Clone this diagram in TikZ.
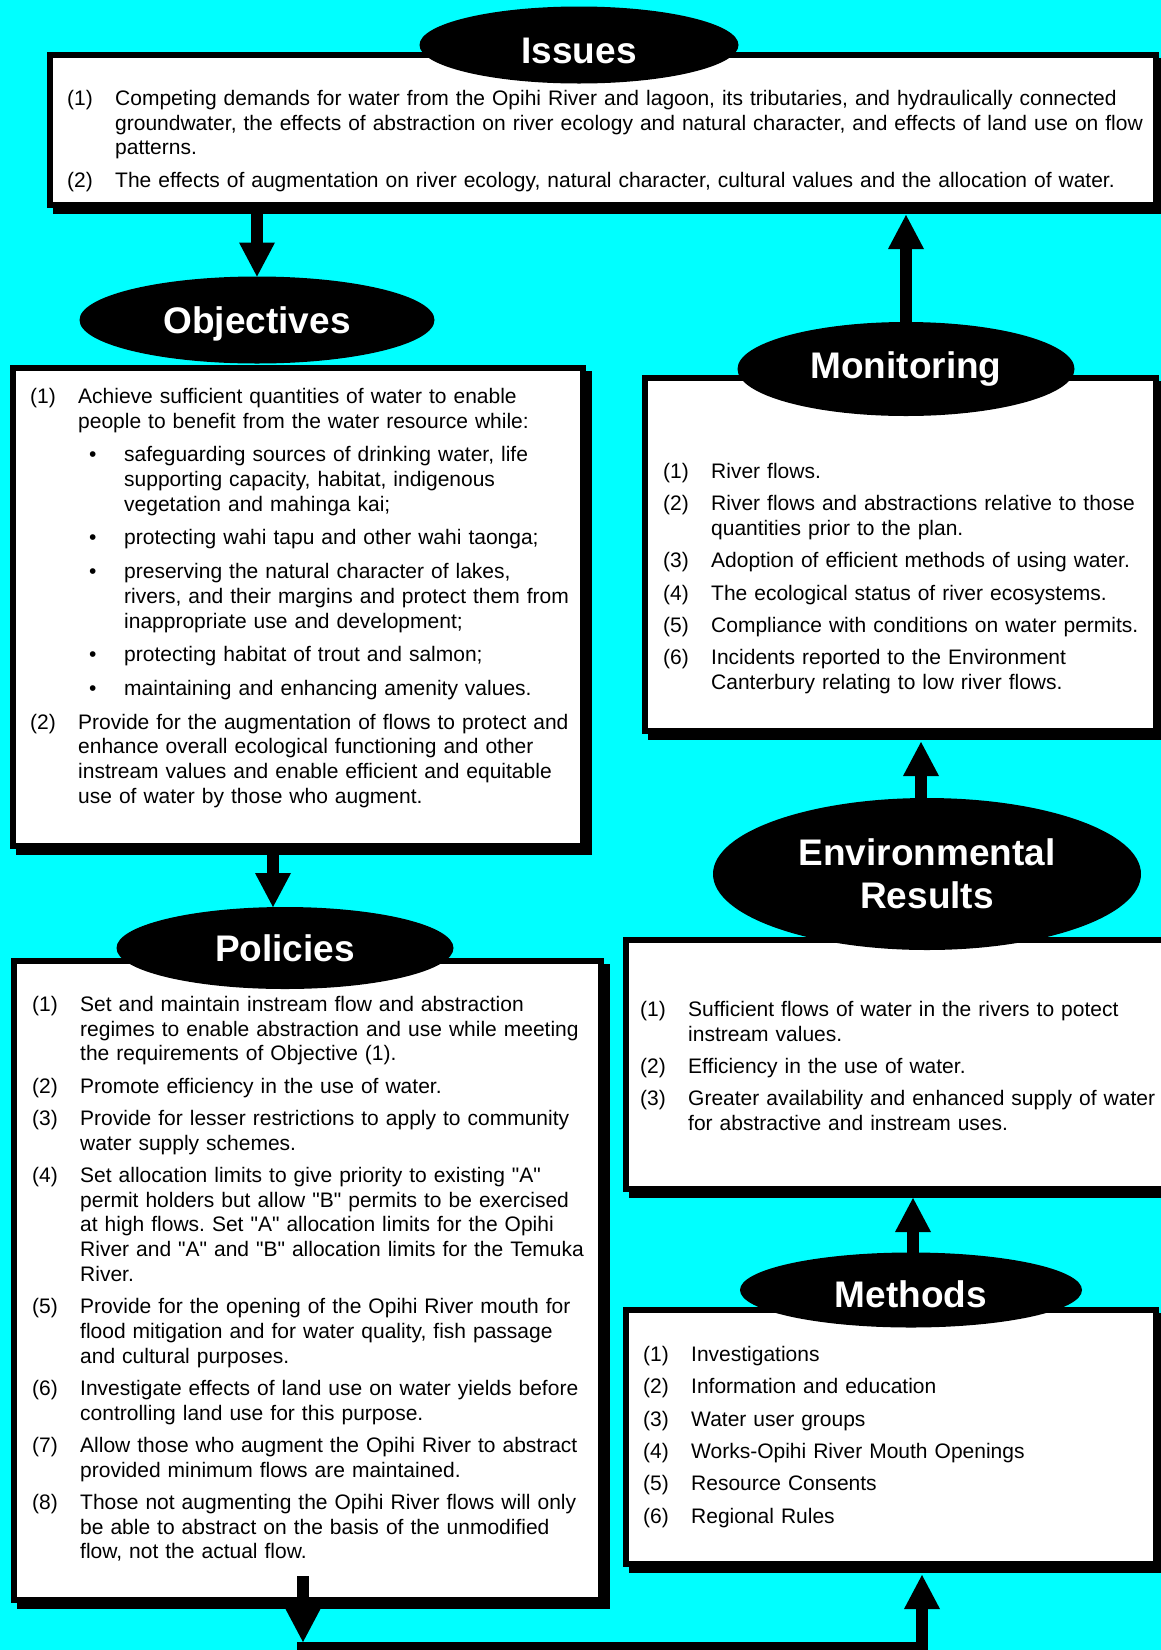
\documentclass[tikz,border=0pt]{standalone}
\usepackage{fontspec}
\setmainfont{Liberation Sans}
\usetikzlibrary{shapes.geometric,arrows.meta,shadows}
\definecolor{aqua}{RGB}{0,255,255}
\newlength\gapsize
\setlength\gapsize{7.6pt}
\newcommand{\entry}[2]{\hangindent=48pt\hangafter=1\noindent\makebox[48pt][l]{\strut#1}#2\par\vskip\gapsize}
\newcommand{\dotentry}[1]{\hangindent=94pt\hangafter=1\noindent\hspace*{59pt}\makebox[35pt][l]{\strut\textbullet}#1\par\vskip\gapsize}
\newcommand{\qt}[1]{\textquotedbl#1\textquotedbl}
\frenchspacing

\begin{document}
\begin{tikzpicture}[x=1pt,y=-1pt,
panel/.style={draw=black,line width=6pt,fill=white,inner sep=0pt,outer sep=0pt,anchor=north west,
  drop shadow={shadow xshift=6pt,shadow yshift=-6pt,opacity=1,fill=black,draw=black,line width=6pt}},
head/.style={ellipse,fill=black,text=white,inner sep=0pt,outer sep=0pt,align=center,
  font=\fontsize{37}{43}\selectfont\bfseries},
list/.style={anchor=north west,inner sep=0pt,align=left,font=\fontsize{21}{24.7}\selectfont},
flow/.style={line width=12pt,-{Triangle[length=34pt,width=36pt,line width=0pt]}}
]
\useasboundingbox (0,0) rectangle (1161,1650);
\fill[aqua] (0,0) rectangle (1161,1650);

\node[panel,minimum width=1106pt,minimum height=150pt] (issues) at (50,55) {};
\node[panel,minimum width=570pt,minimum height=478pt] (objbox) at (13,368) {};
\node[panel,minimum width=587pt,minimum height=639pt] (polbox) at (14,961) {};
\node[panel,minimum width=511pt,minimum height=353pt] (monbox) at (645,378) {};
\node[panel,minimum width=540pt,minimum height=249pt] (resbox) at (626,940) {};
\node[panel,minimum width=530pt,minimum height=254pt] (metbox) at (626,1310) {};

\node[head,minimum width=319pt,minimum height=77pt,text height=36pt,text depth=0pt] (issh) at (579,45) {Issues};
\node[head,minimum width=355pt,minimum height=87pt,text depth=0pt] (objh) at (257,320) {Objectives};
\node[head,minimum width=337pt,minimum height=82pt] (polh) at (285,948) {Policies};
\node[head,minimum width=337pt,minimum height=94pt] (monh) at (906,369) {Monitoring};
\node[head,minimum width=428pt,minimum height=152pt] (resh) at (927,874) {Environmental\\Results};
\node[head,minimum width=342pt,minimum height=75pt,text height=35pt,text depth=0pt] (meth) at (911,1290) {Methods};

\node[list,text width=1090pt] (isstext) at (67,88) {%
\entry{(1)}{Competing demands for water from the Opihi River and lagoon, its tributaries, and hydraulically connected\newline groundwater, the effects of abstraction on river ecology and natural character, and effects of land use on flow\newline patterns.}
\entry{(2)}{The effects of augmentation on river ecology, natural character, cultural values and the allocation of water.}};

\node[list,text width=560pt,execute at begin node={\setlength\gapsize{9pt}}] (objtext) at (30,386) {%
\entry{(1)}{Achieve sufficient quantities of water to enable\newline people to benefit from the water resource while:}
\dotentry{safeguarding sources of drinking water, life\newline supporting capacity, habitat, indigenous\newline vegetation and mahinga kai;}
\dotentry{protecting wahi tapu and other wahi taonga;}
\dotentry{preserving the natural character of lakes,\newline rivers, and their margins and protect them from\newline inappropriate use and development;}
\dotentry{protecting habitat of trout and salmon;}
\dotentry{maintaining and enhancing amenity values.}
\entry{(2)}{Provide for the augmentation of flows to protect and\newline enhance overall ecological functioning and other\newline instream values and enable efficient and equitable\newline use of water by those who augment.}};

\node[list,text width=575pt] (poltext) at (32,994) {%
\entry{(1)}{Set and maintain instream flow and abstraction\newline regimes to enable abstraction and use while meeting\newline the requirements of Objective (1).}
\entry{(2)}{Promote efficiency in the use of water.}
\entry{(3)}{Provide for lesser restrictions to apply to community\newline water supply schemes.}
\entry{(4)}{Set allocation limits to give priority to existing \qt{A}\newline permit holders but allow \qt{B} permits to be exercised\newline at high flows. Set \qt{A} allocation limits for the Opihi\newline River and \qt{A} and \qt{B} allocation limits for the Temuka\newline River.}
\entry{(5)}{Provide for the opening of the Opihi River mouth for\newline flood mitigation and for water quality, fish passage\newline and cultural purposes.}
\entry{(6)}{Investigate effects of land use on water yields before\newline controlling land use for this purpose.}
\entry{(7)}{Allow those who augment the Opihi River to abstract\newline provided minimum flows are maintained.}
\entry{(8)}{Those not augmenting the Opihi River flows will only\newline be able to abstract on the basis of the unmodified\newline flow, not the actual flow.}};

\node[list,text width=500pt] (montext) at (663,461) {%
\entry{(1)}{River flows.}
\entry{(2)}{River flows and abstractions relative to those\newline quantities prior to the plan.}
\entry{(3)}{Adoption of efficient methods of using water.}
\entry{(4)}{The ecological status of river ecosystems.}
\entry{(5)}{Compliance with conditions on water permits.}
\entry{(6)}{Incidents reported to the Environment\newline Canterbury relating to low river flows.}};

\node[list,text width=530pt] (restext) at (640,999) {%
\entry{(1)}{Sufficient flows of water in the rivers to potect\newline instream values.}
\entry{(2)}{Efficiency in the use of water.}
\entry{(3)}{Greater availability and enhanced supply of water\newline for abstractive and instream uses.}};

\node[list,text width=500pt] (mettext) at (643,1344) {%
\entry{(1)}{Investigations}
\entry{(2)}{Information and education}
\entry{(3)}{Water user groups}
\entry{(4)}{Works-Opihi River Mouth Openings}
\entry{(5)}{Resource Consents}
\entry{(6)}{Regional Rules}};

\coordinate (optip) at ([xshift=-12pt]polh.north);
\coordinate (pout) at ([xshift=-4.5pt,yshift=24pt]polbox.south);
\coordinate (lowL) at (303,1648);
\coordinate (lowR) at (922,1648);

\draw[flow] (issues.south -| objh.north) -- (objh.north);
\draw[flow] (objbox.south -| optip) -- (optip);
\draw[flow] (monh.north) -- ([yshift=-10pt]monh.north |- issues.south);
\draw[flow] ([xshift=-6pt]resh.north) -- ([xshift=-6pt,yshift=-11pt]resh.north |- monbox.south);
\draw[flow] ([xshift=2pt]meth.north) -- ([xshift=2pt,yshift=-9pt]meth.north |- resbox.south);
\draw[flow] (pout) -- ([yshift=6pt]lowL);
\draw[flow,line join=miter] ([xshift=-6pt]lowL) -- (lowR) -- ([yshift=-11pt]lowR |- metbox.south);
\end{tikzpicture}
\end{document}
